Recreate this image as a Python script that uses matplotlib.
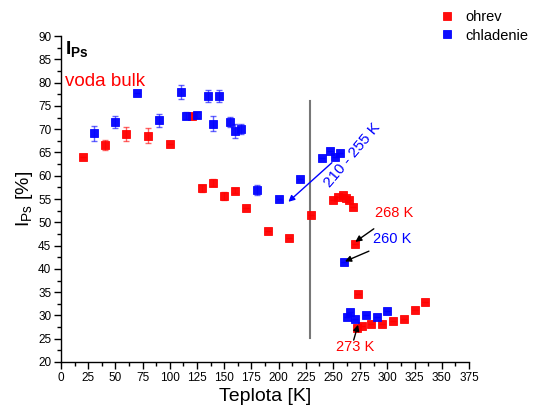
import matplotlib

matplotlib.use("Agg")
import matplotlib.pyplot as plt
from matplotlib.ticker import MultipleLocator

plt.rcParams["font.family"] = ["Liberation Sans", "DejaVu Sans"]
plt.rcParams["mathtext.fontset"] = "custom"
plt.rcParams["mathtext.rm"] = "Liberation Sans"
plt.rcParams["mathtext.bf"] = "Liberation Sans:bold"

# heating run (ohrev)
T_heat = [20, 40, 60, 80, 100, 120, 130, 140, 150, 160, 170, 190, 210, 230,
          250, 255, 259, 262, 265, 268, 270, 273, 272, 277, 285, 295, 305, 315,
          325, 335]
I_heat = [64.0, 66.6, 68.9, 68.6, 66.9, 72.8, 57.3, 58.5, 55.6, 56.8, 53.0,
          48.1, 46.7, 51.5, 54.8, 55.5, 55.8, 55.3, 54.8, 53.2, 45.4, 34.6,
          27.4, 27.7, 28.2, 28.2, 28.7, 29.2, 31.2, 32.8]
E_heat = [0, 1.1, 1.5, 1.6, 0, 0.6, 0.8, 0.8, 0.9, 0.5, 0, 0, 0, 0,
          0, 0, 0, 0, 0, 0, 0, 0, 0, 0, 0, 0, 0, 0, 0, 0]

# cooling run (chladenie)
T_cool = [30, 50, 70, 90, 110, 115, 125, 135, 145, 140, 155, 160, 165, 180,
          200, 220, 240, 247, 252, 256, 260, 263, 266, 270, 280, 290, 300]
I_cool = [69.1, 71.5, 77.8, 71.9, 77.9, 72.9, 73.0, 77.1, 77.1, 71.2, 71.5,
          69.6, 70.1, 56.9, 55.1, 59.2, 63.7, 65.3, 64.0, 64.8, 41.4, 29.7,
          30.8, 29.2, 30.1, 29.6, 31.0]
E_cool = [1.6, 1.3, 0, 1.4, 1.5, 0.7, 0.7, 1.2, 1.2, 1.6, 1.1, 1.4, 1.1, 1.0,
          0, 0, 0, 0, 0, 0, 0, 0, 0, 0, 0, 0, 0]

RED = "#ff0000"
BLUE = "#0000ff"

fig = plt.figure(figsize=(5.36, 4.17), dpi=100)
ax = fig.add_axes([61 / 536, 1 - 362 / 417, 408 / 536, 326 / 417])

for T, I, E, col, lab in [(T_heat, I_heat, E_heat, RED, "ohrev"),
                          (T_cool, I_cool, E_cool, BLUE, "chladenie")]:
    ax.errorbar(T, I, yerr=E, fmt="none", ecolor=col, alpha=0.6,
                elinewidth=1.0, capsize=2.5, capthick=1.0, zorder=2)
    ax.plot(T, I, ls="none", marker="s", ms=6, mfc=col,
            mec=col, mew=0.6, alpha=0.95, label=lab, zorder=3)

# freezing boundary
ax.plot([229, 229], [25.2, 76], color="#777777", lw=1.5, zorder=1)

ax.annotate("", xy=(209, 54.4), xytext=(249, 62.8),
            arrowprops=dict(arrowstyle="-|>", color=BLUE, lw=1.0,
                            mutation_scale=9, shrinkA=0, shrinkB=0))
ax.text(268, 64.5, "210 - 255 K", color=BLUE, fontsize=11, rotation=50,
        ha="center", va="center", rotation_mode="anchor")

black_arrow = dict(arrowstyle="-|>", color="black", lw=1.0,
                   mutation_scale=9, shrinkA=0, shrinkB=0)
ax.text(306, 52.0, "268 K", color=RED, fontsize=10.5, ha="center", va="center")
ax.annotate("", xy=(270.5, 45.8), xytext=(287.5, 48.6), arrowprops=black_arrow)
ax.text(304, 46.4, "260 K", color=BLUE, fontsize=10.5, ha="center", va="center")
ax.annotate("", xy=(261, 41.6), xytext=(283, 43.8), arrowprops=black_arrow)
ax.text(270, 23.2, "273 K", color=RED, fontsize=10.5, ha="center", va="center")
ax.annotate("", xy=(273, 28.0), xytext=(269, 24.7), arrowprops=black_arrow)

ax.text(4, 87, r"$\mathbf{I}_{\mathbf{Ps}}$", fontsize=14, ha="left",
        va="center")
ax.text(4, 80.2, "voda bulk", color=RED, fontsize=13.5, ha="left",
        va="center")

ax.set_xlim(0, 375)
ax.set_ylim(20, 90)
ax.xaxis.set_major_locator(MultipleLocator(25))
ax.xaxis.set_minor_locator(MultipleLocator(12.5))
ax.yaxis.set_major_locator(MultipleLocator(5))
ax.yaxis.set_minor_locator(MultipleLocator(2.5))
ax.tick_params(which="major", direction="out", length=5, width=1,
               labelsize=8.5, pad=2)
ax.tick_params(which="minor", direction="out", length=3, width=1)
for s in ("top", "right"):
    ax.spines[s].set_visible(False)
for s in ("left", "bottom"):
    ax.spines[s].set_linewidth(1.0)

ax.set_xlabel("Teplota [K]", fontsize=14, labelpad=3)
ax.set_ylabel(r"I$_{\mathrm{Ps}}$ [%]", fontsize=14, labelpad=2)

fig.legend(loc="upper left", bbox_to_anchor=(429 / 536, 1.0), frameon=False,
           fontsize=10.5, handlelength=1.0, handletextpad=0.8,
           labelspacing=0.3, borderaxespad=0.3)

fig.savefig("out.png", dpi=100, facecolor="white")
